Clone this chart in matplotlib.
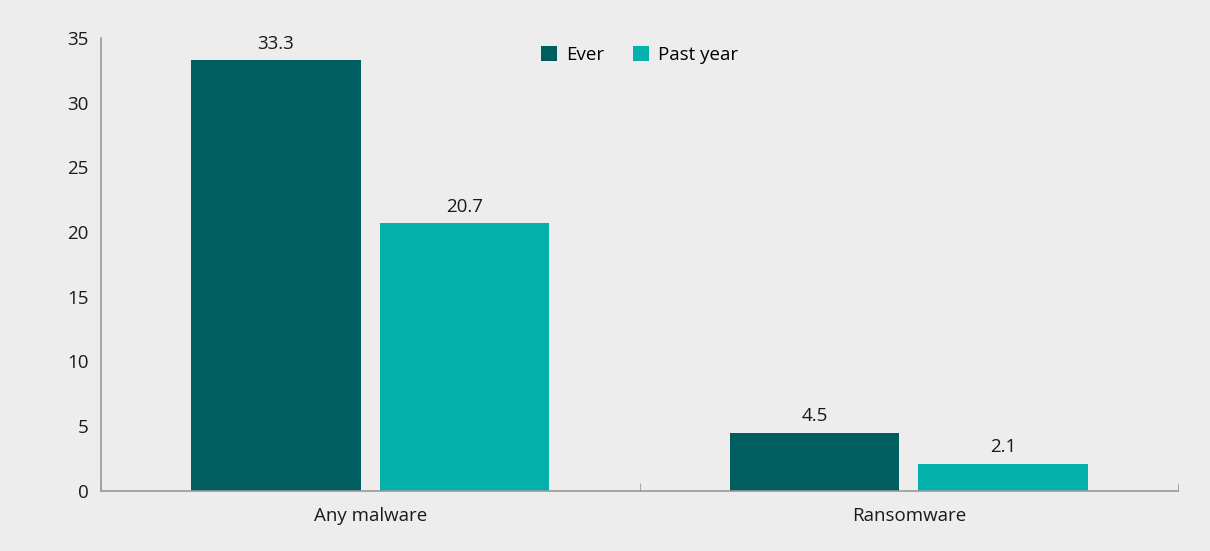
import numpy as np
import matplotlib
matplotlib.use('Agg')
import matplotlib.pyplot as plt
from matplotlib.ticker import FixedLocator

categories = ['Any malware', 'Ransomware']
ever = [33.3, 4.5]
past_year = [20.7, 2.1]
series_names = ['Ever', 'Past year']
yticks = [0, 5, 10, 15, 20, 25, 30, 35]

plt.rcParams['font.family'] = ['Open Sans', 'DejaVu Sans']
plt.rcParams['font.size'] = 13.5

bg = '#ECEDEC'
fig = plt.figure(figsize=(12.1, 5.51), dpi=100)
fig.patch.set_facecolor(bg)
ax = fig.add_axes([0.0835, 0.1094, 0.8901, 0.8216])
ax.set_facecolor(bg)

x = np.arange(len(categories))
w = 0.315
off = 0.175
b1 = ax.bar(x - off, ever, w, color='#005E60', label=series_names[0])
b2 = ax.bar(x + off, past_year, w, color='#04B0AA', label=series_names[1])

for bars, vals in [(b1, ever), (b2, past_year)]:
    for b, v in zip(bars, vals):
        ax.text(b.get_x() + b.get_width() / 2, v + 0.55, f'{v:.1f}',
                ha='center', va='bottom', color='#1a1a1a')

ax.set_xlim(-0.5, 1.5)
ax.set_ylim(0, 35)
ax.set_yticks(yticks)
ax.set_xticks(x)
ax.set_xticklabels(categories)
ax.xaxis.set_minor_locator(FixedLocator([-0.5, 0.5, 1.5]))
ax.tick_params(axis='x', which='major', length=0, pad=12, colors='#1a1a1a')
ax.tick_params(axis='x', which='minor', length=6, direction='in', color='#999999')
ax.tick_params(axis='y', length=0, pad=9, colors='#1a1a1a')

for s in ['top', 'right']:
    ax.spines[s].set_visible(False)
for s in ['left', 'bottom']:
    ax.spines[s].set_color('#999999')
    ax.spines[s].set_linewidth(1.2)

ax.legend(loc='upper center', bbox_to_anchor=(0.50, 1.02), ncol=2, frameon=False,
          handlelength=0.85, handleheight=0.85, handletextpad=0.5, columnspacing=1.5)

fig.savefig('out.png', dpi=100, facecolor=bg)
